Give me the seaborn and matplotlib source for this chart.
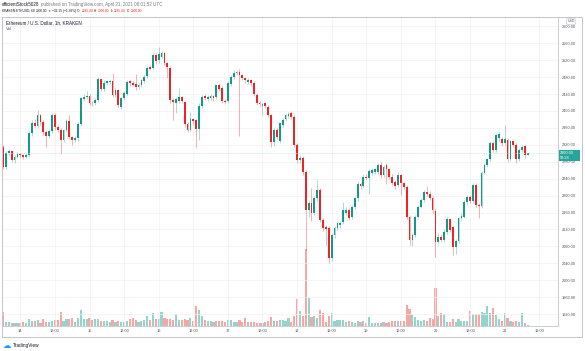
import numpy as np
import pandas as pd
import matplotlib.pyplot as plt
import seaborn as sns
from matplotlib.patches import Rectangle

# ETH/USD hourly candles, Apr 13 18:00 -> Apr 21 08:00
opens = [2315, 2268, 2301, 2305, 2284, 2292, 2298, 2295, 2292, 2296,
         2348, 2372, 2365, 2390, 2374, 2350, 2342, 2352, 2390, 2362,
         2356, 2331, 2354, 2376, 2338, 2331, 2336, 2369, 2428, 2432,
         2436, 2420, 2418, 2426, 2475, 2451, 2467, 2468, 2471, 2438,
         2449, 2410, 2430, 2440, 2470, 2466, 2464, 2456, 2461, 2470,
         2482, 2503, 2502, 2532, 2520, 2528, 2536, 2513, 2502, 2426,
         2420, 2424, 2432, 2421, 2370, 2356, 2380, 2378, 2357, 2411,
         2435, 2428, 2430, 2435, 2432, 2461, 2454, 2424, 2424, 2464,
         2480, 2490, 2493, 2485, 2477, 2468, 2472, 2466, 2438, 2419,
         2412, 2418, 2410, 2390, 2327, 2355, 2329, 2367, 2381, 2388,
         2395, 2386, 2320, 2284, 2290, 2256, 2165, 2182, 2160, 2194,
         2213, 2142, 2125, 2123, 2052, 2107, 2123, 2130, 2138, 2160,
         2166, 2150, 2174, 2194, 2227, 2222, 2245, 2242, 2253, 2256,
         2257, 2272, 2248, 2272, 2262, 2245, 2233, 2225, 2249, 2229,
         2221, 2150, 2095, 2107, 2150, 2174, 2190, 2209, 2205, 2194,
         2164, 2091, 2103, 2095, 2115, 2144, 2125, 2079, 2093, 2146,
         2150, 2185, 2197, 2187, 2225, 2178, 2175, 2254, 2272, 2286,
         2325, 2308, 2335, 2333, 2325, 2331, 2286, 2328, 2320, 2286,
         2308, 2317, 2295.44]
closes = [2268, 2301, 2305, 2284, 2292, 2298, 2295, 2292, 2296, 2348,
          2372, 2365, 2390, 2374, 2350, 2342, 2352, 2390, 2362, 2356,
          2331, 2354, 2376, 2338, 2331, 2336, 2369, 2430, 2434, 2436,
          2420, 2418, 2426, 2475, 2453, 2467, 2470, 2471, 2438, 2449,
          2414, 2430, 2442, 2468, 2466, 2462, 2456, 2462, 2473, 2481,
          2502, 2500, 2532, 2518, 2535, 2537, 2513, 2505, 2426, 2422,
          2428, 2432, 2424, 2370, 2356, 2380, 2376, 2358, 2411, 2433,
          2430, 2433, 2435, 2430, 2461, 2452, 2423, 2421, 2466, 2480,
          2490, 2492, 2486, 2477, 2472, 2474, 2466, 2440, 2419, 2416,
          2416, 2412, 2390, 2327, 2355, 2339, 2371, 2379, 2390, 2393,
          2386, 2320, 2284, 2290, 2256, 2165, 2182, 2158, 2194, 2213,
          2142, 2123, 2121, 2052, 2107, 2123, 2135, 2135, 2166, 2166,
          2147, 2174, 2194, 2227, 2222, 2245, 2242, 2259, 2260, 2262,
          2272, 2248, 2268, 2262, 2245, 2230, 2222, 2249, 2229, 2221,
          2150, 2095, 2107, 2150, 2174, 2190, 2209, 2205, 2194, 2166,
          2091, 2103, 2095, 2115, 2144, 2119, 2079, 2093, 2146, 2153,
          2185, 2197, 2187, 2225, 2178, 2175, 2254, 2272, 2286, 2325,
          2308, 2343, 2345, 2324, 2333, 2286, 2328, 2320, 2286, 2308,
          2316, 2295, 2300]
highs = [2320, 2306, 2310, 2308, 2296, 2302, 2300, 2298, 2300, 2352,
         2378, 2382, 2402, 2394, 2378, 2354, 2358, 2395, 2396, 2366,
         2360, 2358, 2382, 2390, 2342, 2340, 2374, 2434, 2440, 2446,
         2440, 2424, 2430, 2480, 2478, 2472, 2474, 2476, 2489, 2454,
         2452, 2434, 2446, 2472, 2474, 2470, 2487, 2466, 2476, 2486,
         2506, 2508, 2536, 2536, 2551, 2542, 2540, 2516, 2506, 2430,
         2432, 2454, 2436, 2424, 2374, 2398, 2384, 2382, 2420, 2438,
         2440, 2437, 2440, 2438, 2464, 2467, 2458, 2428, 2470, 2484,
         2496, 2496, 2498, 2488, 2480, 2478, 2476, 2470, 2442, 2424,
         2420, 2422, 2414, 2394, 2360, 2360, 2374, 2384, 2394, 2397,
         2401, 2390, 2324, 2296, 2294, 2260, 2188, 2217, 2198, 2237,
         2218, 2146, 2130, 2128, 2112, 2128, 2140, 2140, 2185, 2172,
         2170, 2178, 2198, 2232, 2233, 2250, 2250, 2264, 2266, 2266,
         2276, 2280, 2272, 2276, 2266, 2250, 2238, 2256, 2252, 2233,
         2225, 2154, 2112, 2154, 2178, 2195, 2214, 2223, 2210, 2198,
         2168, 2112, 2108, 2120, 2150, 2148, 2128, 2098, 2150, 2158,
         2190, 2202, 2202, 2230, 2230, 2182, 2258, 2276, 2290, 2330,
         2330, 2347, 2350, 2338, 2367, 2336, 2331, 2332, 2324, 2312,
         2320, 2320, 2300]
lows = [2262, 2264, 2296, 2280, 2278, 2288, 2290, 2287, 2288, 2292,
        2342, 2360, 2360, 2368, 2344, 2316, 2336, 2348, 2356, 2350,
        2298, 2326, 2350, 2334, 2320, 2326, 2330, 2364, 2424, 2428,
        2414, 2412, 2414, 2422, 2448, 2446, 2462, 2464, 2434, 2432,
        2410, 2404, 2426, 2436, 2460, 2458, 2450, 2452, 2456, 2466,
        2478, 2496, 2498, 2512, 2514, 2524, 2508, 2477, 2420, 2379,
        2395, 2420, 2418, 2362, 2350, 2352, 2370, 2312, 2331, 2406,
        2426, 2424, 2426, 2424, 2428, 2448, 2418, 2416, 2420, 2460,
        2476, 2486, 2341, 2472, 2466, 2464, 2460, 2436, 2414, 2410,
        2390, 2406, 2386, 2316, 2318, 2334, 2324, 2362, 2376, 2384,
        2382, 2314, 2278, 2278, 2249, 2072, 2150, 2140, 2154, 2188,
        2138, 2116, 2083, 2040, 2046, 2100, 2118, 2124, 2132, 2154,
        2142, 2144, 2168, 2188, 2216, 2218, 2236, 2205, 2248, 2250,
        2252, 2242, 2244, 2227, 2240, 2225, 2216, 2220, 2201, 2215,
        2145, 2083, 2080, 2102, 2146, 2170, 2186, 2200, 2190, 2160,
        2055, 2086, 2090, 2090, 2110, 2114, 2060, 2062, 2088, 2142,
        2146, 2180, 2182, 2182, 2172, 2146, 2170, 2250, 2268, 2282,
        2302, 2304, 2330, 2318, 2320, 2280, 2282, 2314, 2276, 2282,
        2304, 2288, 2295.44]
volumes = [13.5, 4, 3.5, 3, 2.5, 3, 3, 3.5, 3, 7,
           5, 5, 6, 3, 7, 4, 4, 5, 6, 5.5,
           14, 5, 7, 7, 7.5, 4, 8, 16, 7, 7,
           7.5, 6, 7, 6.5, 5, 4.5, 5, 3.5, 6, 4,
           5, 4, 3.5, 5, 7, 7.5, 6, 4, 5, 6,
           10, 6, 13, 6.5, 7, 14, 8, 7, 6.5, 5.5,
           12, 6, 6, 7, 5.5, 7.5, 5, 20, 15.5, 10,
           6, 5, 5, 4, 4.5, 5, 4.5, 4, 5.5, 6,
           4, 3.5, 6, 4, 8, 4, 3.5, 4, 3, 3,
           2.5, 3.5, 5, 9, 5, 4.5, 6, 6, 5, 8,
           4, 10, 27, 15, 10, 77, 28, 9, 10, 8,
           16, 13, 4, 10, 13, 5, 6, 5.5, 6, 4,
           4.5, 3.5, 3, 5, 4, 5, 3, 9, 3, 2.5,
           3, 2.5, 3.5, 3, 4, 4.5, 4.5, 5, 5, 5,
           21, 17, 12, 9, 6, 5, 6, 5, 8, 7,
           38, 10, 13, 11.5, 4, 4, 7, 4, 7, 4.5,
           5, 5, 15, 11.5, 11.5, 11.5, 14, 12.5, 20, 13,
           18, 11, 7, 5, 13, 8, 5, 4, 5, 3.5,
           12.7, 3, 1]
time_labels = ['14', '12:00', '15', '12:00', '16', '12:00', '17', '12:00',
               '18', '12:00', '19', '12:00', '20', '12:00', '21', '12:00']
price_ticks = list(range(1920, 2601, 40))

UP, DOWN = '#12998a', '#ee2424'
VOL_UP, VOL_DOWN = '#94d4cd', '#f6a6a3'
TEXT = '#50535e'
DARK = '#131722'

sns.set_theme(style='white')
plt.rcParams['font.family'] = ['Liberation Sans', 'DejaVu Sans']

df = pd.DataFrame({'o': opens, 'h': highs, 'l': lows, 'c': closes, 'vol': volumes})
df['idx'] = np.arange(len(df))
df['dir'] = np.where(df['c'] >= df['o'], 'up', 'down')
colors = np.where(df['dir'] == 'up', UP, DOWN)

W, H = 585, 351
fig = plt.figure(figsize=(W / 100, H / 100), dpi=100)
renderer = fig.canvas.get_renderer()


def px(x, y):
    # pixel position (top-left origin) -> figure fraction
    return x / W, 1 - y / H


def text_row(x0, y, pieces, width):
    # pieces: (text, colour, spaces before); scaled so the row spans `width` px
    size = 10
    texts = [fig.text(0, 0, s, fontsize=size, color=c, va='baseline') for s, c, _ in pieces]
    probe = fig.text(0, 0, 'x x', fontsize=size)
    probe2 = fig.text(0, 0, 'xx', fontsize=size)
    space = probe.get_window_extent(renderer).width - probe2.get_window_extent(renderer).width
    probe.remove()
    probe2.remove()
    total = sum(t.get_window_extent(renderer).width for t in texts)
    total += space * sum(g for _, _, g in pieces)
    scale = width / total
    x = x0
    for t, (_, _, gap) in zip(texts, pieces):
        x += gap * space * scale
        t.set_fontsize(size * scale)
        t.set_position(px(x, y))
        x += t.get_window_extent(renderer).width


ax = fig.add_axes([2 / W, 25 / H, 556 / W, 309 / H])
axv = ax.twinx()

# volume histogram at the bottom
sns.barplot(data=df, x='idx', y='vol', hue='dir', palette={'up': VOL_UP, 'down': VOL_DOWN},
            native_scale=True, dodge=False, width=0.75, errorbar=None, legend=False,
            saturation=1, linewidth=0, ax=axv)
axv.set_ylim(0, max(volumes) * 4.0)
axv.set_yticks([])
axv.set_ylabel('')
for s in axv.spines.values():
    s.set_visible(False)

ax.set_zorder(axv.get_zorder() + 1)
ax.patch.set_visible(False)

# candles
ax.vlines(df['idx'], df['l'], df['h'], colors=colors, linewidth=0.55, alpha=0.45)
body = np.maximum((df['c'] - df['o']).abs(), 2.0)
ax.bar(df['idx'], body, bottom=np.minimum(df['o'], df['c']), width=0.62,
       color=colors, linewidth=0)
ax.axhline(closes[-1], color='#bfe3de', lw=0.6, ls=(0, (1, 1)))

ax.set_xlim(-0.35, 192.5)
ax.set_ylim(1892, 2622)
ax.set_xticks(np.arange(len(time_labels)) * 12 + 6)
ax.set_xticklabels(time_labels)
ax.set_yticks(price_ticks)
ax.set_yticklabels([f'{p:.2f}' for p in price_ticks])
ax.yaxis.tick_right()
ax.tick_params(axis='y', length=0, pad=3, labelsize=2.8, colors=TEXT)
ax.tick_params(axis='x', length=0, pad=2.2, labelsize=2.8, colors=TEXT)
ax.grid(True, color='#f1f2f5', lw=0.5)
ax.set_axisbelow(True)
for name, s in ax.spines.items():
    s.set_visible(True)
    s.set_color('#c3c5cb')
    s.set_linewidth(0.6)
ax.spines['top'].set_visible(False)

fig.patches.append(Rectangle(px(2, 337), 580 / W, 320 / H, transform=fig.transFigure,
                             fill=False, ec='#c3c5cb', lw=0.7))

# header
text_row(2, 6, [('efficientStock5028', DARK, 0),
                ('published on TradingView.com, April 21, 2021 08:01:52 UTC', '#787b86', 1)], 161)
text_row(2, 12, [('KRAKEN:ETHUSD, 60', DARK, 0), ('2300.00', DARK, 1), ('\u25bc', DOWN, 1),
                 ('\u221232.15 (\u22121.38%)', DARK, 1), ('O:', DARK, 1), ('2295.44', DOWN, 1),
                 ('H:', DARK, 1), ('2300.00', DOWN, 1), ('L:', DARK, 1), ('2295.44', DOWN, 1),
                 ('C:', DARK, 1), ('2300.00', DOWN, 1)], 144)

fig.text(*px(6, 23), 'Ethereum / U.S. Dollar, 1h, KRAKEN', fontsize=3.35, color=DARK, va='center')
fig.text(*px(6, 29.5), 'Vol', fontsize=3.1, color=TEXT, va='center')

fig.text(*px(571, 21.5), 'USD', fontsize=2.5, color=TEXT, ha='center', va='center',
         bbox=dict(boxstyle='round,pad=0.25', fc='white', ec='#c3c5cb', lw=0.4))

# last price badge
fig.patches.append(Rectangle(px(558.5, 161), 21 / W, 11 / H, transform=fig.transFigure,
                             fc='#26a69a', ec='none'))
fig.text(*px(560, 152.8), '2300.00', fontsize=2.8, color='white', va='center')
fig.text(*px(560, 157.8), '58:28', fontsize=2.8, color='white', va='center')

# footer logo
fig.text(*px(3, 345), '\u2601', fontsize=6, color='#2196f3', va='center',
         family='DejaVu Sans')
fig.text(*px(12.5, 345), 'TradingView', fontsize=3.4, color=DARK, va='center')

fig.savefig('out.png', dpi=100)
